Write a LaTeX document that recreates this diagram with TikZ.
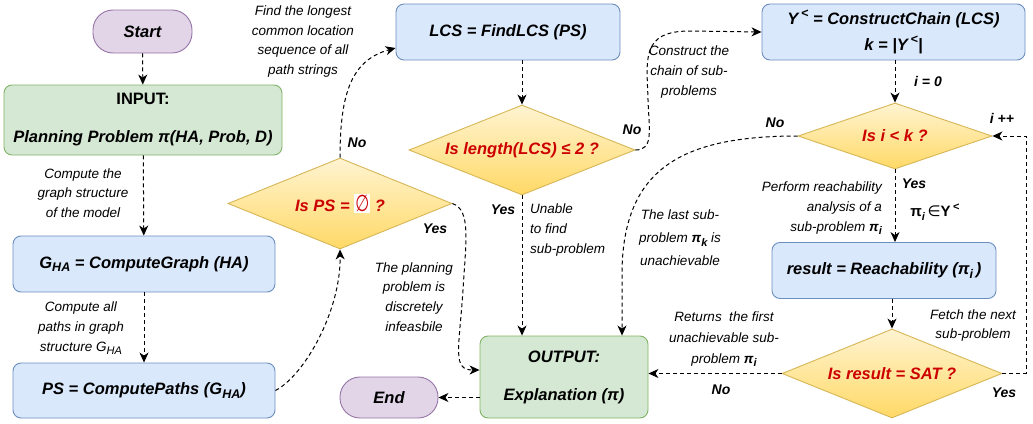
\documentclass[tikz,border=0pt]{standalone}
\usepackage{graphicx}
\usepackage{fontspec}
\setmainfont{Liberation Sans}
\newfontfamily\dejavu{DejaVu Sans}
\usetikzlibrary{arrows.meta,calc,shapes.geometric}
\definecolor{bfill}{HTML}{DAE8FC}\definecolor{bdraw}{HTML}{6C8EBF}
\definecolor{gfill}{HTML}{D5E8D4}\definecolor{gdraw}{HTML}{82B366}
\definecolor{pfill}{HTML}{E1D5E7}\definecolor{pdraw}{HTML}{9673A6}
\definecolor{ytop}{HTML}{FFF4D2}\definecolor{ybot}{HTML}{FFD966}\definecolor{ydraw}{HTML}{D6B656}
\definecolor{qred}{HTML}{CC0000}
\newcommand\msub[1]{\raisebox{-0.45ex}{\fontsize{12.5}{12.5}\selectfont #1}}
\newcommand\msup[1]{\raisebox{0.75ex}{\fontsize{12.5}{12.5}\selectfont #1}}
\newcommand\lsub[1]{\raisebox{-0.45ex}{\fontsize{11}{11}\selectfont #1}}
\newcommand\lsup[1]{\raisebox{0.75ex}{\fontsize{11}{11}\selectfont #1}}
\begin{document}
\begin{tikzpicture}[x=1pt,y=-1pt,
  mainfont/.style={font=\fontsize{16.5}{20}\selectfont\bfseries\itshape},
  bluebox/.style={rectangle, rounded corners=8pt, draw=bdraw, fill=bfill, line width=0.9pt, inner sep=0pt, mainfont, align=center},
  greenbox/.style={rectangle, rounded corners=8pt, draw=gdraw, fill=gfill, line width=0.9pt, inner sep=0pt, mainfont, align=center},
  pill/.style={rectangle, rounded corners=20pt, draw=pdraw, fill=pfill, line width=0.9pt, inner sep=0pt, mainfont},
  dia/.style={diamond, draw=ydraw, top color=ytop, bottom color=ybot, line width=0.9pt, inner sep=0pt, mainfont, text=qred},
  lbl/.style={font=\fontsize{13.5}{19.8}\selectfont\itshape, align=center, inner sep=0pt},
  yn/.style={font=\fontsize{14}{16}\selectfont\bfseries\itshape, inner sep=0pt},
  conn/.style={line width=1pt, dash pattern=on 4pt off 3pt, -{Stealth[length=10pt,width=9pt,inset=3pt]}}]
\useasboundingbox (0,0) rectangle (1033,423);

% nodes
\node[pill, minimum width=99pt, minimum height=43pt] (start) at (142.5,31.5) {Start};
\node[greenbox, minimum width=278pt, minimum height=70pt] (input) at (143,120) {{\upshape INPUT:}\\[18pt]Planning Problem π(HA, Prob, D)};
\node[bluebox, minimum width=262pt, minimum height=56pt] (gha) at (144,264) {G\msub{HA} = ComputeGraph (HA)};
\node[bluebox, minimum width=262pt, minimum height=55pt] (ps) at (144,390.5) {PS = ComputePaths (G\msub{HA})};
\node[dia, shape aspect=2.46, minimum width=224pt, minimum height=91pt] (d1) at (340,203.5)
  {Is PS = {\setlength{\fboxsep}{1pt}\colorbox{white}{\scalebox{0.8}[1.15]{\fontsize{20}{20}\selectfont\dejavu\mdseries\upshape ∅}}} ?};
\node[bluebox, minimum width=224pt, minimum height=56pt] (lcs) at (508,32) {LCS = FindLCS (PS)};
\node[dia, shape aspect=2.5, minimum width=226pt, minimum height=90pt] (d2) at (522,150) {Is length(LCS) ≤ 2 ?};
\node[bluebox, minimum width=263pt, minimum height=56pt] (ybox) at (893.5,32)
  {Y\,\msup{<} = ConstructChain (LCS)\\[6pt]k = |Y\,\msup{<}|};
\node[dia, shape aspect=2.9, minimum width=194pt, minimum height=66pt] (d3) at (895,136) {Is i < k ?};
\node[bluebox, minimum width=224pt, minimum height=56pt] (reach) at (884,270.5) {result = Reachability (π\msub{i}\,)};
\node[dia, shape aspect=2.47, minimum width=220pt, minimum height=89pt] (d4) at (892,373.5) {Is result = SAT ?};
\node[greenbox, minimum width=168pt, minimum height=82pt] (out) at (564,377) {OUTPUT:\\[18pt]Explanation (π)};
\node[pill, minimum width=98pt, minimum height=41pt] (end) at (389,397.5) {End};
\coordinate (rr) at (1026,0);

% connectors
\draw[conn] (start) -- (input);
\draw[conn] (input) -- (gha);
\draw[conn] (gha) -- (ps);
\draw[conn] (ps.east) .. controls (305,375) and (341,310) .. (d1.south);
\draw[conn] (d1.north) .. controls (340,92) and (352,60) .. ($(lcs.west)+(0,16)$);
\draw[conn] (d2.north |- lcs.south) -- (d2.north);
\draw[conn] (d2.east) .. controls (654,150) and (649,130) .. (648,100) .. controls (647,60) and (640,31) .. (690,31) -- (ybox.west);
\draw[conn] (d3.north |- ybox.south) -- (d3.north);
\draw[conn] (d3.west) .. controls (680,136) and (624,170) .. (622,270) -- ($(out.north)+(58,0)$);
\draw[conn] (d2.south) -- (d2.south |- out.north);
\draw[conn] (d1.east) .. controls (471,210) and (466,240) .. (463,290) .. controls (459,350) and (452,370) .. ($(out.west)+(0,-7)$);
\draw[conn] (d3.south) -- (d3.south |- reach.north);
\draw[conn] (d4.north |- reach.south) -- (d4.north);
\draw[conn] (d4.east) -- (d4.east -| rr) |- (d3.east);
\draw[conn] (d4.west) -- (d4.west -| out.east);
\draw[conn] (end.east -| out.west) -- (end.east);

% labels
\node[lbl] (l1) at (83,193) {Compute the\\graph structure\\of the model};
\node[lbl] (l2) at (81,328) {Compute all\\paths in graph\\structure G\lsub{HA}};
\node[lbl] (l3) at (303,41.5) {Find the longest\\common location\\sequence of all\\path strings};
\node[yn] (n1) at (357,143) {No};
\node[lbl] (l4) at (689,72) {Construct the\\chain of sub-\\problems};
\node[yn] (n2) at (632,130) {No};
\node[yn] (i0) at (928,81) {i = 0};
\node[yn] (n3) at (775,123) {No};
\node[yn] (ipp) at (1002,118) {i ++};
\node[yn] (y3) at (914,184) {Yes};
\node[font=\fontsize{15}{16}\selectfont\bfseries, inner sep=0pt] (pin) at (935,212) {π\lsub{\itshape i}\,{\dejavu\mdseries ∈}Y\,\lsup{<}};
\node[lbl, align=right, anchor=east] (l5) at (882,208) {Perform reachability\\analysis of a\\sub-problem \textbf{π\lsub{i}}};
\node[lbl, font=\fontsize{13.5}{23}\selectfont\itshape] (l6) at (680,238) {The last sub-\\problem \textbf{π\lsub{k}} is\\unachievable};
\node[lbl] (l7) at (414,297) {The planning\\problem is\\discretely\\infeasbile};
\node[yn] (y1) at (435,229) {Yes};
\node[yn] (y2) at (503,210) {Yes};
\node[lbl, align=left, anchor=west] (l8) at (530,230) {Unable\\to find\\sub-problem};
\node[lbl] (l9) at (973,325.5) {Fetch the next\\sub-problem};
\node[yn] (y4) at (1004,393) {Yes};
\node[lbl, font=\fontsize{13.5}{21}\selectfont\itshape] (l10) at (724,339) {Returns\ \ the first\\unachievable sub-\\problem \textbf{π\lsub{i}}};
\node[yn] (n4) at (721,390) {No};
\end{tikzpicture}
\end{document}
